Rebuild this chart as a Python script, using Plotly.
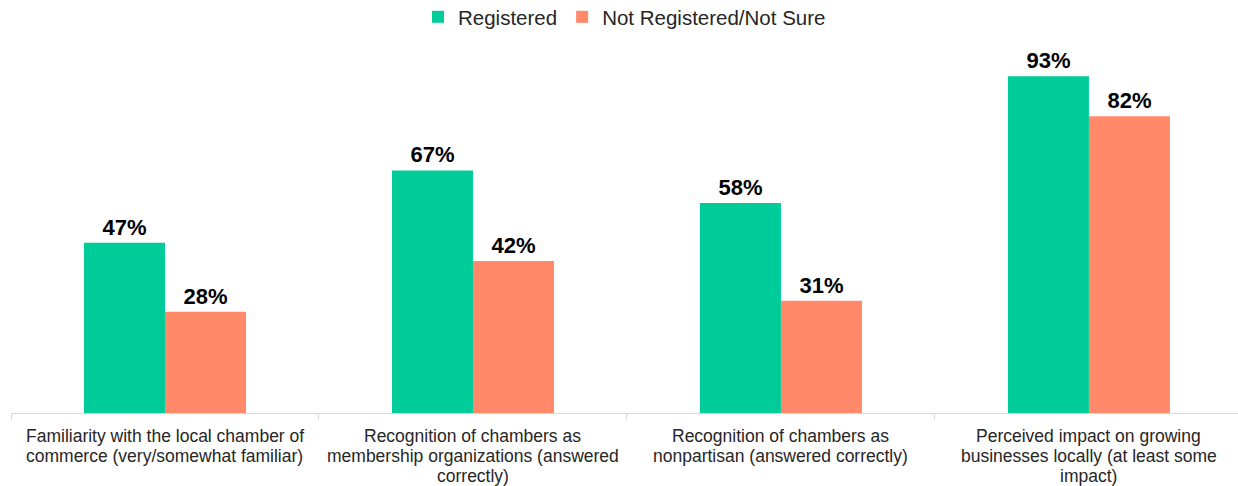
import plotly.graph_objects as go

categories = [
    "Familiarity with the local chamber of<br>commerce (very/somewhat familiar)",
    "Recognition of chambers as<br>membership organizations (answered<br>correctly)",
    "Recognition of chambers as<br>nonpartisan (answered correctly)",
    "Perceived impact on growing<br>businesses locally (at least some<br>impact)",
]
registered = [47, 67, 58, 93]
not_registered = [28, 42, 31, 82]

font_family = "Arial, Liberation Sans, sans-serif"

fig = go.Figure()
fig.add_trace(go.Bar(
    x=categories, y=registered, name="Registered",
    marker=dict(color="#00CC99", line=dict(width=0)),
    text=[f"{v}%" for v in registered], textposition="outside",
    textfont=dict(size=22, color="#000000", family=font_family, weight="bold"),
    cliponaxis=False,
))
fig.add_trace(go.Bar(
    x=categories, y=not_registered, name="Not Registered/Not Sure",
    marker=dict(color="#FF8969", line=dict(width=0)),
    text=[f"{v}%" for v in not_registered], textposition="outside",
    textfont=dict(size=22, color="#000000", family=font_family, weight="bold"),
    cliponaxis=False,
))

# category labels drawn line by line to match the tighter line spacing
annotations = []
for cat in categories:
    for i, line in enumerate(cat.split("<br>")):
        annotations.append(dict(
            x=cat, xref="x", y=0, yref="paper", text=line, showarrow=False,
            xanchor="center", yanchor="middle", yshift=-23 - 20 * i,
            font=dict(size=17.5, color="#262626", family=font_family),
        ))

fig.update_layout(
    width=1238, height=486,
    margin=dict(l=11, r=0, t=51, b=73, autoexpand=False),
    paper_bgcolor="white", plot_bgcolor="white",
    barmode="group", bargap=0.474, bargroupgap=0,
    font=dict(family=font_family, color="#262626"),
    legend=dict(orientation="h", x=0.5, xanchor="center", y=1.094, yref="paper",
                yanchor="middle", font=dict(size=20.5, color="#262626"),
                itemwidth=30, traceorder="normal"),
    xaxis=dict(
        range=[-0.5, 3.484], showline=True, linecolor="#D9D9D9", linewidth=1,
        ticks="outside", tickson="boundaries", ticklen=6, tickcolor="#D9D9D9",
        showticklabels=False, showgrid=False, automargin=False,
    ),
    yaxis=dict(range=[0, 100], visible=False, showgrid=False, automargin=False),
    annotations=annotations,
)

fig.write_html(
    "out.html",
    config={"displayModeBar": False},
    post_script="document.body.style.margin='0';document.body.style.overflow='hidden';",
)
